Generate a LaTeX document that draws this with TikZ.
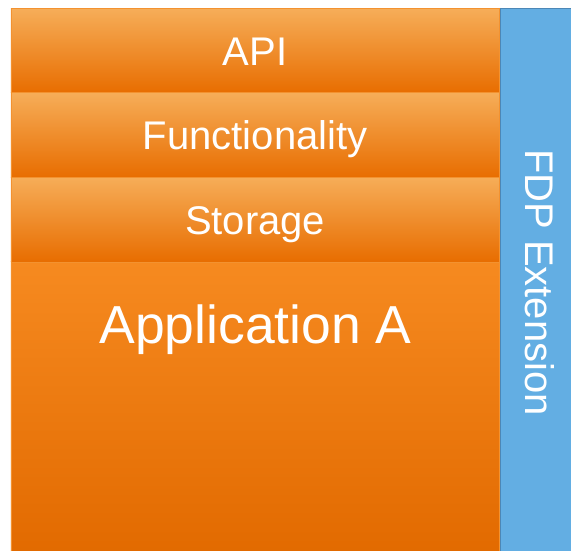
\documentclass[tikz,border=0pt]{standalone}
\usepackage{fontspec}
\setmainfont{Liberation Sans}
\definecolor{bandtop}{HTML}{F6AD58}
\definecolor{bandmid}{HTML}{F57C02}
\definecolor{bandbot}{HTML}{E86D00}
\definecolor{apptop}{HTML}{F68A20}
\definecolor{appbot}{HTML}{E26A00}
\definecolor{bandedge}{HTML}{F39230}
\definecolor{extfill}{HTML}{63AEE3}
\definecolor{extedge}{HTML}{4C87B6}
\begin{document}
\begin{tikzpicture}[x=1pt,y=-1pt,
  bigtext/.style={text=white,font=\fontsize{40}{48}\selectfont},
  layer/.style={rectangle,anchor=north west,inner sep=0pt,
    draw=bandedge,line width=0.8pt,
    top color=bandtop,middle color=bandmid,bottom color=bandbot,
    minimum width=488.5pt,minimum height=#1,bigtext,
    text height=29pt,text depth=0pt},
  appbox/.style={rectangle,anchor=north west,inner sep=0pt,
    draw=bandedge,line width=0.8pt,
    top color=apptop,bottom color=appbot,
    minimum width=488.5pt,minimum height=292pt},
  extbox/.style={rectangle,anchor=north west,inner sep=0pt,
    draw=extedge,line width=1pt,fill=extfill,
    minimum width=76pt,minimum height=546pt}]
  \useasboundingbox (0,0) rectangle (571,551);
  % application body and its layers
  \node[appbox] (app) at (10.5,261.5) {};
  \node[bigtext,font=\fontsize{53.5}{60}\selectfont,anchor=base,inner sep=0pt]
    (apptext) at (255.5,343) {Application A};
  \node[layer=84pt] (api) at (10.5,8.5) {API};
  \node[layer=84.5pt] (func) at (10.5,92.5) {Functionality};
  \node[layer=84.5pt] (store) at (10.5,177) {Storage};
  % extension bar along the right side
  \node[extbox] (ext) at (499.5,8.5) {};
  \node[bigtext,rotate=-90,anchor=base,inner sep=0pt] (exttext) at (525,282.5) {FDP Extension};
\end{tikzpicture}
\end{document}
